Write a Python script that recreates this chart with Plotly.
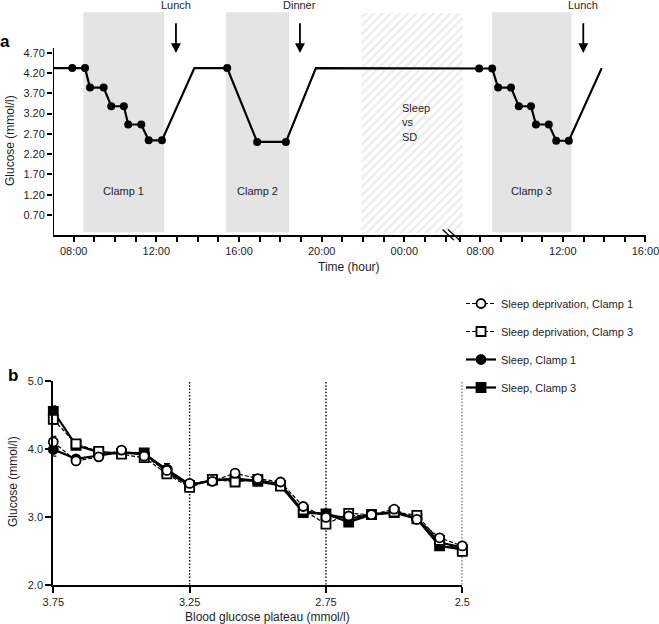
import plotly.graph_objects as go

W, H = 659, 624
FONT = "Liberation Sans, Arial, Helvetica, sans-serif"
TXT = "#1e1e1e"

# ---------------- Panel a data ----------------
# clock time in hours (day 2 = 24 + hour)
time_h = [7.0, 7.93, 8.55, 8.79, 9.45, 9.82, 10.43, 10.64, 11.27, 11.63, 12.27,
          13.84, 15.43, 16.88, 18.27, 19.72,
          31.95, 32.58, 32.87, 33.49, 33.87, 34.46, 34.70, 35.32, 35.68, 36.29, 37.88]
glucose_a = [4.32, 4.32, 4.32, 3.84, 3.84, 3.38, 3.38, 2.93, 2.93, 2.54, 2.54,
             4.32, 4.32, 2.50, 2.50, 4.32,
             4.31, 4.31, 3.84, 3.84, 3.38, 3.38, 2.93, 2.93, 2.53, 2.53, 4.32]
has_dot = [0, 1, 1, 1, 1, 1, 1, 1, 1, 1, 1,
           0, 1, 1, 1, 0,
           1, 1, 1, 1, 1, 1, 1, 1, 1, 1, 0]

clamp_start = [8.47, 15.37, 32.58]
clamp_end = [12.38, 18.43, 36.42]
clamp_labels = ["Clamp 1", "Clamp 2", "Clamp 3"]
sleep_start, sleep_end = 21.93, 31.15
meal_time = [12.95, 18.95, 36.99]
meal_labels = ["Lunch", "Dinner", "Lunch"]

yticks_a = [0.70, 1.20, 1.70, 2.20, 2.70, 3.20, 3.70, 4.20, 4.70]
tick_hours = list(range(8, 27)) + list(range(31, 41))
tick_named = {8: "08:00", 12: "12:00", 16: "16:00", 20: "20:00", 24: "00:00",
              32: "08:00", 36: "12:00", 40: "16:00"}

# ---------------- Panel b data ----------------
plateau_labels = ["3.75", "3.25", "2.75", "2.5"]
plateau_index = [0, 6, 12, 18]
sample_idx = list(range(19))
sd_c1 = [4.10, 3.82, 3.88, 3.98, 3.89, 3.68, 3.49, 3.52, 3.64, 3.56, 3.51, 3.15, 2.99, 3.01, 3.03, 3.11, 2.96, 2.69, 2.57]
sd_c3 = [4.43, 4.07, 3.96, 3.92, 3.87, 3.63, 3.43, 3.55, 3.51, 3.55, 3.45, 3.10, 2.89, 3.05, 3.03, 3.07, 3.02, 2.65, 2.49]
sl_c1 = [3.99, 3.85, 3.90, 3.95, 3.92, 3.70, 3.47, 3.53, 3.56, 3.53, 3.48, 3.08, 3.04, 2.97, 3.03, 3.07, 2.97, 2.62, 2.55]
sl_c3 = [4.55, 4.05, 3.95, 3.93, 3.94, 3.66, 3.46, 3.54, 3.55, 3.52, 3.46, 3.06, 3.04, 2.92, 3.03, 3.06, 2.97, 2.57, 2.52]
sd_c1_err = [0.08, 0.04, 0.04, 0.04, 0.04, 0.05, 0.04, 0.04, 0.04, 0.04, 0.05, 0.05, 0.05, 0.04, 0.04, 0.04, 0.04, 0.05, 0.05]
sd_c3_err = [0.07, 0.04, 0.04, 0.04, 0.04, 0.05, 0.04, 0.04, 0.04, 0.04, 0.06, 0.05, 0.05, 0.04, 0.04, 0.04, 0.04, 0.05, 0.07]
sl_c1_err = [0.10, 0.04, 0.04, 0.04, 0.04, 0.08, 0.04, 0.04, 0.04, 0.04, 0.08, 0.05, 0.05, 0.04, 0.04, 0.04, 0.04, 0.05, 0.05]
sl_c3_err = [0.08, 0.04, 0.04, 0.04, 0.04, 0.06, 0.04, 0.04, 0.04, 0.04, 0.06, 0.05, 0.05, 0.04, 0.04, 0.04, 0.04, 0.05, 0.05]


# broken time axis: the night is compressed
def axis_pos(t):
    return t if t < 28 else t - 4.33


XA_RANGE = [7.0, axis_pos(40) + 0.01]
YA_RANGE = [0.207, 5.703]
XA_DOM = [53 / W, 645.7 / W]
YA_DOM = [1 - 235 / H, 1 - 12 / H]
XB_DOM = [53.3 / W, 462.3 / W]
YB_DOM = [1 - 584.7 / H, 1 - 380.7 / H]


def xa_paper(p):
    return XA_DOM[0] + (p - XA_RANGE[0]) / (XA_RANGE[1] - XA_RANGE[0]) * (XA_DOM[1] - XA_DOM[0])


fig = go.Figure()

# hatched sleep / SD period
sx0, sx1 = axis_pos(sleep_start), axis_pos(sleep_end)
fig.add_trace(go.Scatter(
    x=[sx0, sx1, sx1, sx0, sx0], y=[0.256, 0.256, 5.678, 5.678, 0.256],
    fill="toself", mode="lines", line=dict(width=0),
    fillcolor="rgba(0,0,0,0)",
    fillpattern=dict(shape="/", fgcolor="#d9d9d9", bgcolor="white", size=6, solidity=0.4),
    hoverinfo="skip", showlegend=False, xaxis="x", yaxis="y"))

xa_pos = [axis_pos(t) for t in time_h]
fig.add_trace(go.Scatter(x=xa_pos, y=glucose_a, mode="lines",
                         line=dict(color="black", width=2.2),
                         showlegend=False, xaxis="x", yaxis="y"))
fig.add_trace(go.Scatter(x=[p for p, d in zip(xa_pos, has_dot) if d],
                         y=[g for g, d in zip(glucose_a, has_dot) if d],
                         mode="markers", marker=dict(color="black", size=8),
                         showlegend=False, xaxis="x", yaxis="y", cliponaxis=False))


# ---------------- Panel b traces ----------------
def series(name, y, err, symbol, filled, dash, rank, lw):
    return go.Scatter(
        x=sample_idx, y=y, name=name, mode="lines+markers",
        line=dict(color="black", width=lw, dash=dash),
        marker=dict(symbol=symbol, size=9,
                    color="black" if filled else "white",
                    line=dict(color="black", width=1.8)),
        error_y=dict(type="data", array=err, color="black", thickness=1.2, width=3),
        legendrank=rank, legendgroup=name, cliponaxis=False,
        xaxis="x2", yaxis="y2")


fig.add_trace(series("Sleep, Clamp 1", sl_c1, sl_c1_err, "circle", True, "solid", 3, 2.2))
fig.add_trace(series("Sleep, Clamp 3", sl_c3, sl_c3_err, "square", True, "solid", 4, 2.2))
fig.add_trace(series("Sleep deprivation, Clamp 3", sd_c3, sd_c3_err, "square", False, "4px,2px", 2, 1.2))
fig.add_trace(series("Sleep deprivation, Clamp 1", sd_c1, sd_c1_err, "circle", False, "4px,2px", 1, 1.2))

shapes = []
# clamp shading
for s, e in zip(clamp_start, clamp_end):
    shapes.append(dict(type="rect", xref="x", yref="y", x0=axis_pos(s), x1=axis_pos(e),
                       y0=0.274, y1=5.696, fillcolor="#e4e4e4", line=dict(width=0), layer="below"))
# panel a y axis line
shapes.append(dict(type="line", xref="x", yref="y", x0=XA_RANGE[0], x1=XA_RANGE[0], y0=YA_RANGE[0], y1=4.816,
                   line=dict(color="black", width=2)))
# axis break marks
for dx in (0.0, 0.26):
    shapes.append(dict(type="line", xref="paper", yref="paper",
                       x0=xa_paper(25.85 + dx), x1=xa_paper(26.40 + dx),
                       y0=1 - 229.5 / H, y1=1 - 240 / H,
                       line=dict(color="black", width=1.3)))
# dotted plateau lines (panel b)
for idx in plateau_index[1:]:
    shapes.append(dict(type="line", xref="x2", yref="y2", x0=idx, x1=idx, y0=2.0, y1=5.0,
                       line=dict(color="black", width=1.4, dash="1.5px,1.8px"), layer="below"))

annotations = []
# meal arrows
for t, lab in zip(meal_time, meal_labels):
    p = axis_pos(t)
    annotations.append(dict(x=p, y=4.69, ax=p, ay=5.46, xref="x", yref="y", axref="x", ayref="y",
                            text="", showarrow=True, arrowhead=2, arrowsize=1.1, arrowwidth=1.8,
                            arrowcolor="black"))
    annotations.append(dict(x=xa_paper(p), y=1 - 5 / H, xref="paper", yref="paper", text=lab,
                            showarrow=False, font=dict(size=11, color=TXT), xanchor="center", yanchor="middle"))
# clamp labels
for s, e, lab in zip(clamp_start, clamp_end, clamp_labels):
    annotations.append(dict(x=(axis_pos(s) + axis_pos(e)) / 2, y=1.29, xref="x", yref="y", text=lab,
                            showarrow=False, font=dict(size=11, color=TXT)))
annotations.append(dict(x=axis_pos(23.8), y=2.99, xref="x", yref="y", text="Sleep<br>vs<br>SD",
                        align="left", xanchor="left", showarrow=False, font=dict(size=11, color=TXT)))
# titles and panel letters
titles = [
    dict(x=5 / W, y=1 - 42 / H, text="<b>a</b>", font=dict(size=17, color="black")),
    dict(x=12.5 / W, y=1 - 375 / H, text="<b>b</b>", font=dict(size=17, color="black")),
    dict(x=10 / W, y=1 - 141 / H, text="Glucose (mmol/l)", textangle=-90, font=dict(size=12, color=TXT)),
    dict(x=349 / W, y=1 - 267 / H, text="Time (hour)", font=dict(size=12, color=TXT)),
    dict(x=13 / W, y=1 - 482 / H, text="Glucose (mmol/l)", textangle=-90, font=dict(size=12, color=TXT)),
    dict(x=267 / W, y=1 - 617 / H, text="Blood glucose plateau (mmol/l)", font=dict(size=12, color=TXT)),
]
for a in titles:
    a.update(xref="paper", yref="paper", showarrow=False, xanchor="center", yanchor="middle")
annotations += titles

common_axis = dict(showgrid=False, zeroline=False, automargin=False, tickcolor="black",
                   tickfont=dict(size=11, color=TXT), ticks="outside", tickmode="array",
                   ticklabeloverflow="allow")

fig.update_layout(
    width=W, height=H, margin=dict(l=0, r=0, t=0, b=0, autoexpand=False),
    paper_bgcolor="white", plot_bgcolor="rgba(0,0,0,0)",
    font=dict(family=FONT, size=11, color=TXT),
    showlegend=True,
    legend=dict(x=461 / W, y=1 - 289 / H, xanchor="left", yanchor="top",
                traceorder="grouped", tracegroupgap=9, font=dict(size=11, color=TXT),
                bgcolor="rgba(0,0,0,0)"),
    xaxis=dict(domain=XA_DOM, range=XA_RANGE, anchor="y",
               tickvals=[axis_pos(h) for h in tick_hours],
               ticktext=[tick_named.get(h, "") for h in tick_hours],
               ticklen=5, tickwidth=1.5,
               showline=True, linecolor="black", linewidth=2, **common_axis),
    yaxis=dict(domain=YA_DOM, range=YA_RANGE, anchor="x",
               tickvals=yticks_a, ticktext=[f"{v:.2f}" for v in yticks_a],
               ticklen=5, tickwidth=1.5, showline=False, **common_axis),
    xaxis2=dict(domain=XB_DOM, range=[0, 18], anchor="y2",
                tickvals=plateau_index, ticktext=plateau_labels,
                ticklen=6, tickwidth=1.8,
                showline=True, linecolor="black", linewidth=2.2, **common_axis),
    yaxis2=dict(domain=YB_DOM, range=[2, 5], anchor="x2",
                tickvals=[2, 3, 4, 5], ticktext=["2.0", "3.0", "4.0", "5.0"],
                ticklen=6, tickwidth=1.8,
                showline=True, linecolor="black", linewidth=2.2, **common_axis),
    shapes=shapes, annotations=annotations,
)

# remove the page's default 8px body margin so the figure sits at the window origin
fig.write_html("out.html", config={"displayModeBar": False},
               post_script="document.body.style.margin='0';")
